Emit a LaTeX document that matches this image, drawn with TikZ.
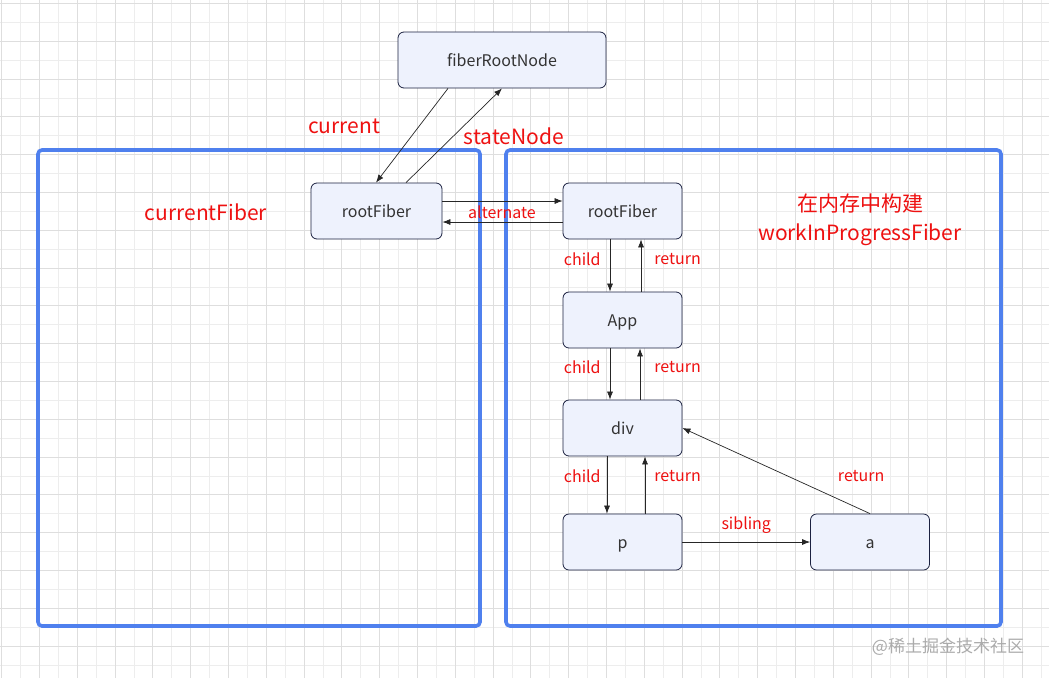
\documentclass[tikz,border=0pt]{standalone}
\usepackage{fontspec}
\setmainfont{Noto Sans CJK SC}
\usepackage{tikz}
\usetikzlibrary{arrows.meta,positioning}
\definecolor{gridline}{HTML}{DEDEDE}
\definecolor{gridfaint}{HTML}{EDEDED}
\definecolor{frameblue}{HTML}{4F80EE}
\definecolor{fiberfill}{HTML}{EEF2FD}
\definecolor{fiberdraw}{HTML}{1B2140}
\definecolor{ink}{HTML}{333333}
\definecolor{lblred}{HTML}{EE1111}
\definecolor{markgray}{HTML}{ABABAB}
\tikzset{
  fiber/.style={draw=fiberdraw,fill=fiberfill,rounded corners=6pt,line width=0.8pt,
    minimum width=119pt,minimum height=56pt,inner sep=0pt,text=ink,
    text height=12pt,text depth=0pt,font=\fontsize{16}{19}\selectfont},
  treeframe/.style={draw=frameblue,line width=3.6pt,rounded corners=4pt},
  ptr/.style={-{Latex[length=8pt,width=6pt]},draw=black!85,line width=0.7pt},
  lbl/.style={text=lblred,font=\fontsize{16}{19}\selectfont,inner sep=1pt},
  biglbl/.style={text=lblred,font=\fontsize{21}{29}\selectfont,inner sep=0pt,align=center}
}

\begin{document}
\begin{tikzpicture}[x=1pt,y=-1pt]
  \useasboundingbox (0,0) rectangle (1049,678);
  \fill[white] (0,0) rectangle (1049,678);
  % background grid
  \foreach \i in {0,...,55} {
    \draw[gridfaint,line width=0.6pt] (1.5+18.9*\i,0) -- (1.5+18.9*\i,678);
  }
  \foreach \i in {0,...,35} {
    \draw[gridfaint,line width=0.6pt] (0,3.3+18.9*\i) -- (1049,3.3+18.9*\i);
  }
  \foreach \i in {0,...,27} {
    \draw[gridline,line width=0.6pt] (1.5+37.8*\i,0) -- (1.5+37.8*\i,678);
  }
  \foreach \i in {0,...,17} {
    \draw[gridline,line width=0.6pt] (0,3.3+37.8*\i) -- (1049,3.3+37.8*\i);
  }

  \draw[treeframe] (38,150) rectangle (480,626);
  \draw[treeframe] (506,150) rectangle (1001,626);

  \node[fiber,minimum width=208pt] (froot) at (502,60) {fiberRootNode};
  \node[fiber,minimum width=131pt] (lroot) at (376.5,211) {rootFiber};
  \node[fiber] (rroot) at (622.5,211) {rootFiber};
  \node[fiber] (app) at (622.5,320) {App};
  \node[fiber] (div) at (622.5,428) {div};
  \node[fiber] (p) at (622.5,542) {p};
  \node[fiber] (a) at (870,542) {a};

  \node[biglbl] (cur) at (344,126) {current};
  \node[biglbl] (sn) at (514,136) {stateNode};
  \node[biglbl] (curfiber) at (206,212) {currentFiber};
  \node[biglbl] (wip) at (860,220) {在内存中构建\\workInProgressFiber};

  \draw[ptr] ([xshift=-54pt]froot.south) -- ([xshift=-0.5pt]lroot.north);
  \draw[ptr] ([xshift=29.5pt]lroot.north) -- (froot.south);
  \draw[ptr] ([yshift=10pt]lroot.east) -- ([yshift=10pt]rroot.west);
  \draw[ptr] ([yshift=-11pt]rroot.west) -- ([yshift=-11pt]lroot.east);
  \node[lbl] (alt) at (502,212) {alternate};

  \draw[ptr] ([xshift=-12.5pt]rroot.south) -- node[lbl,pos=.38,left=8pt] {child} ([xshift=-12.5pt]app.north);
  \draw[ptr] ([xshift=18.5pt]app.north) -- node[lbl,pos=.62,right=12pt] {return} ([xshift=18.5pt]rroot.south);
  \draw[ptr] ([xshift=-12.5pt]app.south) -- node[lbl,pos=.37,left=8pt] {child} ([xshift=-12.5pt]div.north);
  \draw[ptr] ([xshift=17.5pt]div.north) -- node[lbl,pos=.63,right=13pt] {return} ([xshift=17.5pt]app.south);
  \draw[ptr] ([xshift=-15.5pt]div.south) -- node[lbl,pos=.34,left=5pt] {child} ([xshift=-15.5pt]p.north);
  \draw[ptr] ([xshift=22.5pt]p.north) -- node[lbl,pos=.66,right=8pt] {return} ([xshift=22.5pt]div.south);
  \draw[ptr] (p.east) -- node[lbl,above=7pt] {sibling} (a.west);
  \draw[ptr] (a.north) -- node[lbl,pos=.5,xshift=85pt,yshift=-5pt] {return} (div.east);

  \node[text=markgray,font=\fontsize{17}{20}\selectfont] (mark) at (948,647) {@稀土掘金技术社区};
\end{tikzpicture}
\end{document}
